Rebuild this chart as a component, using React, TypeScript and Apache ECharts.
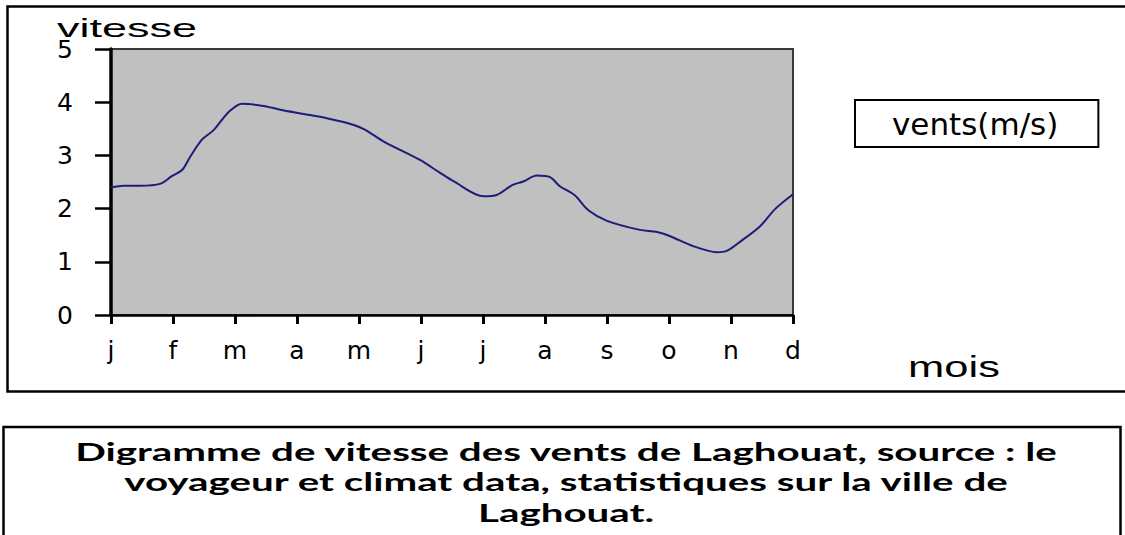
import React, { useEffect, useRef } from "react";
import * as echarts from "echarts";

const months = ["j", "f", "m", "a", "m", "j", "j", "a", "s", "o", "n", "d"];
const seriesName = "vents(m/s)";
// positions along the month axis (0 = janvier, 11 = décembre) and wind speeds
const monthPos = [
  0, 0.2, 0.47, 0.8, 0.98, 1.15, 1.28, 1.47, 1.65, 1.79, 1.92, 2.11, 2.46, 2.73, 3.11, 3.48, 3.81,
  4.07, 4.4, 4.99, 5.31, 5.53, 6.01, 6.23, 6.47, 6.65, 6.87, 7.08, 7.24, 7.48, 7.7, 8.0, 8.53, 8.81,
  9.02, 9.4, 9.77, 9.94, 10.15, 10.47, 10.71, 11,
];
const speeds = [
  2.4, 2.43, 2.43, 2.47, 2.61, 2.73, 2.98, 3.3, 3.47, 3.67, 3.84, 3.97, 3.93, 3.86, 3.78, 3.7, 3.61,
  3.5, 3.26, 2.91, 2.67, 2.51, 2.23, 2.26, 2.44, 2.51, 2.62, 2.59, 2.42, 2.25, 1.97, 1.77, 1.6, 1.56,
  1.48, 1.29, 1.18, 1.21, 1.38, 1.67, 1.99, 2.27,
];
const yTicks = [0, 1, 2, 3, 4, 5];
const yName = "vitesse";
const xName = "mois";
const caption =
  "Digramme de vitesse des vents de Laghouat, source : le\nvoyageur et climat data, statistiques sur la ville de\nLaghouat.";

export default function App() {
  const ref = useRef<HTMLDivElement>(null);
  useEffect(() => {
    if (!ref.current) return;
    const chart = echarts.init(ref.current, null, { renderer: "svg" });
    const data = monthPos.map((p, i) => [p, speeds[i]]);
    chart.setOption({
      animation: false,
      backgroundColor: "#ffffff",
      grid: {
        left: 111,
        top: 49,
        width: 682,
        height: 266,
        show: true,
        backgroundColor: "#c0c0c0",
        borderColor: "#3a3a3a",
        borderWidth: 2,
        z: 0,
      },
      legend: {
        data: [seriesName],
        left: 855,
        top: 100,
        itemWidth: 0,
        itemHeight: 0,
        itemGap: 0,
        padding: [8, 40, 8, 31],
        borderColor: "#000",
        borderWidth: 2,
        backgroundColor: "#fff",
        textStyle: { fontFamily: "DejaVu Sans", fontSize: 31, color: "#000" },
        selectedMode: false,
      },
      xAxis: {
        type: "value",
        min: 0,
        max: 11,
        interval: 1,
        splitLine: { show: false },
        axisLine: { show: true, onZero: false, lineStyle: { color: "#000", width: 2.5 } },
        axisTick: { show: true, inside: false, length: 9, lineStyle: { color: "#000", width: 3 } },
        axisLabel: {
          margin: 23,
          fontFamily: "DejaVu Sans",
          fontSize: 25,
          color: "#000",
          formatter: (v: number) => months[Math.round(v)] ?? "",
        },
      },
      yAxis: {
        type: "value",
        min: yTicks[0],
        max: yTicks[yTicks.length - 1],
        interval: 1,
        splitLine: { show: false },
        axisLine: { show: true, lineStyle: { color: "#000", width: 3.5 } },
        axisTick: { show: true, inside: false, length: 16, lineStyle: { color: "#000", width: 2.5 } },
        axisLabel: {
          margin: 38,
          fontFamily: "DejaVu Sans",
          fontSize: 25,
          color: "#000",
        },
      },
      graphic: [
        {
          type: "rect",
          shape: { x: 7.5, y: 6.5, width: 1130, height: 385 },
          style: { fill: "none", stroke: "#000", lineWidth: 2.5 },
          silent: true,
          z: -10,
        },
        {
          type: "rect",
          shape: { x: 3.5, y: 427, width: 1117, height: 200 },
          style: { fill: "none", stroke: "#000", lineWidth: 2.5 },
          silent: true,
          z: -10,
        },
        {
          type: "text",
          x: 127,
          y: 28,
          scaleX: 1.8,
          style: {
            text: yName,
            fontFamily: "Liberation Sans",
            fontSize: 25,
            fill: "#000",
            align: "center",
            verticalAlign: "middle",
          },
        },
        {
          type: "text",
          x: 954,
          y: 367,
          scaleX: 1.5,
          style: {
            text: xName,
            fontFamily: "Liberation Sans",
            fontSize: 29,
            fill: "#000",
            align: "center",
            verticalAlign: "middle",
          },
        },
        {
          type: "text",
          x: 566,
          y: 482,
          scaleX: 1.68,
          style: {
            text: caption,
            fontFamily: "Lato",
            fontWeight: "bold",
            fontSize: 24,
            lineHeight: 30.5,
            fill: "#000",
            align: "center",
            verticalAlign: "middle",
          },
        },
      ],
      series: [
        {
          name: seriesName,
          type: "line",
          data,
          smooth: 0.3,
          symbol: "none",
          showSymbol: false,
          color: "#1c1c7a",
          lineStyle: { color: "#1c1c7a", width: 2 },
          z: 3,
        },
      ],
    });
    return () => chart.dispose();
  }, []);
  return (
    <div
      ref={ref}
      style={{ position: "absolute", left: 0, top: 0, width: 1125, height: 535, background: "#fff" }}
    />
  );
}
